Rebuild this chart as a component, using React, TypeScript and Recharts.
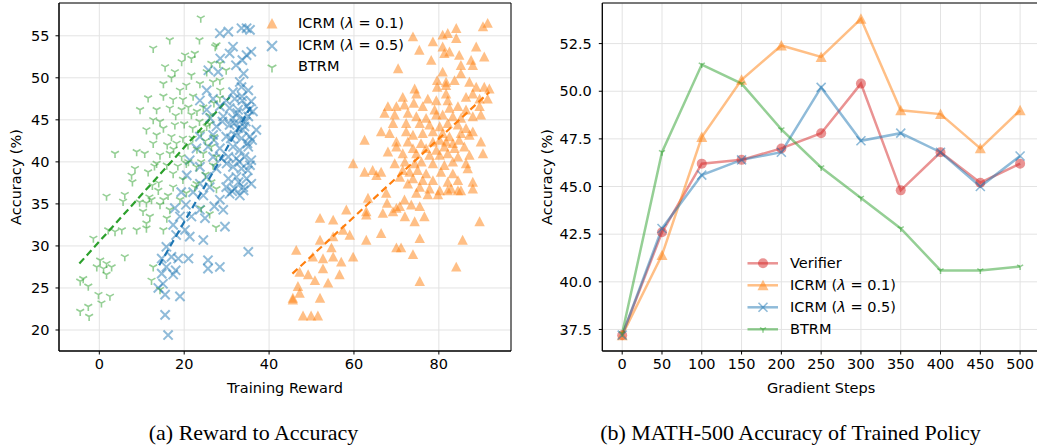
import React from "react";
import {
  ScatterChart,
  Scatter,
  LineChart,
  Line,
  XAxis,
  YAxis,
  CartesianGrid,
  ReferenceLine,
  ReferenceArea,
} from "recharts";

// ---- (a) Reward to Accuracy: [training reward, accuracy]
const icrm01Points: [number, number][] = [
  [91.5,56.5],[90.4,56.1],[84.1,55.9],[82.1,55.3],[80.9,55.1],[84.1,54.7],[73.9,54.9],[75.4,53.3],[78.6,54.3],[80.9,53.7],
  [81.3,52.9],[88.8,53.7],[82.5,53.1],[90.7,52.5],[84.8,52.7],[78.2,52.1],[87.6,52.1],[88.0,51.5],[85.2,51.5],[70.4,51.1],
  [80.9,50.7],[85.2,50.5],[79.6,49.7],[81.7,49.5],[83.7,49.7],[87.2,49.5],[74.3,48.7],[79.6,48.9],[81.7,49.1],[88.8,48.9],
  [90.7,48.9],[91.9,48.7],[71.5,47.7],[74.7,48.1],[77.4,47.5],[79.4,47.3],[81.7,48.1],[82.1,47.3],[86.4,47.7],[88.0,48.1],
  [89.6,47.5],[91.5,47.5],[70.0,46.6],[68.0,46.6],[71.9,46.8],[74.1,47.0],[76.2,46.6],[79.0,46.2],[82.5,46.4],[84.5,46.6],
  [86.4,46.2],[89.6,46.6],[67.2,45.8],[69.6,45.6],[72.7,45.8],[74.7,45.4],[77.0,45.2],[79.4,45.6],[80.9,45.6],[83.3,45.4],
  [85.2,45.2],[88.0,45.4],[89.9,45.6],[69.2,44.6],[72.3,44.6],[75.5,44.6],[77.8,44.4],[80.2,44.2],[82.1,44.6],[84.5,44.4],
  [86.4,44.0],[66.4,43.6],[68.4,43.4],[72.3,43.6],[73.9,43.2],[76.2,43.4],[78.6,43.6],[80.9,43.4],[82.5,43.0],[85.2,43.4],
  [87.2,43.2],[88.0,43.6],[62.5,42.6],[70.0,42.4],[72.7,42.4],[75.8,42.2],[78.6,42.4],[80.2,42.6],[81.7,42.4],[83.3,42.2],
  [84.8,42.6],[89.9,42.4],[70.0,41.8],[73.9,41.6],[77.0,41.6],[79.4,41.4],[81.3,41.8],[83.7,41.6],[86.0,41.8],[68.0,41.2],
  [71.5,41.0],[74.7,41.0],[77.8,40.8],[80.2,40.8],[82.1,41.0],[84.5,40.6],[87.2,40.8],[90.4,41.0],[69.6,39.8],[72.0,40.0],
  [74.3,39.8],[75.9,40.0],[78.6,39.8],[81.3,39.6],[83.3,40.0],[86.4,39.8],[59.8,39.8],[62.5,38.8],[64.4,39.0],[66.4,38.8],
  [71.5,39.0],[73.1,38.8],[75.0,39.0],[77.0,38.6],[80.5,38.8],[83.3,38.6],[86.8,39.2],[65.3,38.4],[70.8,38.2],[73.9,38.0],
  [76.2,37.8],[78.6,37.8],[82.1,37.6],[84.5,37.8],[88.0,37.6],[72.7,37.4],[75.5,37.0],[77.8,36.8],[80.2,36.6],[82.9,36.8],
  [85.2,36.6],[88.0,36.8],[67.6,36.3],[71.9,35.5],[74.7,36.3],[77.4,36.1],[79.8,36.1],[82.1,36.6],[84.5,36.6],[63.3,35.7],
  [67.8,35.1],[70.8,34.7],[73.5,34.9],[75.5,34.7],[58.2,34.3],[62.9,34.1],[66.8,33.9],[69.2,34.1],[70.0,34.5],[72.0,33.5],
  [76.6,33.5],[52.0,33.3],[55.1,33.1],[62.9,33.7],[74.3,32.9],[89.6,32.9],[57.4,31.9],[59.0,31.3],[66.4,31.5],[55.1,31.1],
  [52.0,30.7],[62.9,30.7],[75.5,30.9],[85.6,30.7],[70.0,29.8],[71.1,29.8],[46.4,29.5],[54.7,29.8],[73.9,29.0],[50.3,28.7],
  [52.7,28.5],[55.1,28.7],[57.0,28.1],[59.8,28.7],[47.2,26.9],[49.2,26.6],[52.7,27.3],[56.6,26.6],[84.1,27.5],[50.8,25.9],
  [53.9,25.6],[75.5,25.8],[46.8,25.2],[47.2,24.4],[45.6,23.8],[52.0,23.8],[45.6,23.6],[48.0,21.7],[49.9,21.7],[51.5,21.7],
];

const icrm05Points: [number, number][] = [
  [33.5,55.9],[34.7,55.9],[35.5,55.7],[28.4,55.3],[30.4,55.5],[31.5,53.7],[30.7,52.9],[34.7,52.7],[35.8,53.1],[28.5,52.3],
  [32.2,51.5],[33.7,52.1],[25.7,50.9],[28.0,50.7],[34.0,50.5],[33.1,49.5],[25.3,48.5],[31.5,48.3],[33.5,48.9],[35.1,48.5],
  [23.7,47.3],[26.8,47.5],[29.9,47.3],[31.9,47.5],[33.7,47.3],[35.8,47.2],[25.3,46.2],[28.4,46.6],[30.7,46.4],[32.7,46.2],
  [34.7,46.6],[36.2,46.0],[26.1,45.2],[29.2,45.4],[31.5,45.2],[33.5,45.0],[35.1,45.4],[27.6,44.2],[30.7,44.4],[32.7,44.0],
  [34.2,44.2],[37.0,43.8],[23.7,43.0],[26.8,43.2],[29.9,43.0],[31.9,43.2],[33.5,42.8],[35.5,43.0],[22.9,41.6],[25.6,41.8],
  [28.4,41.6],[31.5,41.8],[33.1,41.4],[35.1,41.8],[26.8,40.6],[30.4,40.6],[32.3,40.4],[34.2,40.6],[35.8,40.2],[21.3,40.2],
  [23.7,39.4],[27.6,39.2],[31.5,39.4],[33.5,39.2],[35.5,39.6],[20.6,38.4],[25.3,38.2],[30.4,38.0],[32.3,38.2],[34.7,38.0],
  [23.7,37.4],[29.9,37.0],[31.9,36.8],[33.9,37.0],[35.8,37.4],[19.3,36.4],[22.1,36.4],[30.7,36.2],[33.1,36.0],[28.4,35.5],
  [17.8,34.5],[20.4,34.9],[23.7,34.3],[27.1,34.7],[29.2,34.3],[19.0,33.5],[21.7,33.5],[24.9,33.3],[29.6,32.3],[17.4,32.5],
  [20.2,31.9],[18.1,31.3],[21.3,31.1],[24.5,30.7],[15.8,29.9],[35.1,29.3],[14.7,28.5],[17.0,28.7],[18.6,28.5],[21.0,28.5],
  [25.6,28.3],[15.8,27.5],[18.0,27.1],[25.6,27.3],[28.4,27.5],[14.7,26.7],[17.4,26.6],[15.0,25.5],[13.9,25.0],[15.5,24.2],
  [19.0,24.0],[15.5,21.8],[16.2,19.4],[32.5,45.8],[34.5,44.8],[33.8,43.8],[31.0,42.8],[34.9,42.2],[33.0,40.0],[35.0,39.0],
  [30.0,39.8],[32.8,37.6],[34.0,36.6],[31.3,36.5],[36.0,42.6],[29.0,44.8],[27.0,42.6],[33.6,47.8],[35.3,46.2],[31.8,44.6],
  [28.8,40.4],[26.0,37.0],[24.5,36.0],
];

const btrmPoints: [number, number][] = [
  [23.9,57.1],[16.6,54.5],[23.6,54.5],[12.7,53.5],[27.6,53.9],[27.3,53.7],[20.2,52.7],[22.5,52.9],[21.7,52.3],[15.5,51.3],
  [19.4,51.9],[26.4,51.7],[28.4,51.7],[17.8,50.7],[21.7,50.3],[25.3,50.7],[29.9,50.9],[28.4,49.7],[15.1,49.3],[20.5,49.1],
  [23.7,49.3],[26.8,49.5],[11.5,47.6],[15.1,47.8],[17.4,47.4],[19.7,47.4],[22.1,47.8],[28.4,47.6],[9.6,46.2],[13.5,46.2],
  [16.6,46.4],[19.4,46.2],[21.7,45.6],[12.7,45.0],[14.3,44.8],[17.8,44.4],[23.6,44.8],[25.3,44.2],[11.1,43.8],[15.1,44.0],
  [13.5,43.2],[17.0,43.0],[19.7,42.8],[27.0,43.0],[12.7,42.2],[18.2,42.2],[20.9,42.0],[26.4,41.8],[3.7,41.0],[8.8,41.2],
  [10.7,41.0],[14.3,40.8],[16.6,41.0],[19.4,40.6],[24.5,41.0],[27.6,40.6],[13.5,39.8],[15.9,39.6],[20.5,39.8],[22.9,39.4],
  [26.8,39.6],[8.4,39.2],[7.6,38.4],[11.5,38.8],[17.4,38.6],[19.7,37.9],[22.9,37.4],[26.4,37.6],[7.8,37.6],[13.9,36.6],
  [17.4,37.0],[20.5,36.3],[27.6,36.8],[1.7,35.9],[6.0,36.1],[12.3,35.5],[15.1,35.5],[5.6,35.3],[11.1,35.1],[14.3,34.9],
  [10.3,34.1],[16.6,34.3],[11.9,33.5],[15.9,33.3],[11.1,32.7],[11.1,32.1],[5.3,31.9],[2.1,31.9],[3.7,31.7],[8.8,31.9],
  [15.1,31.9],[-1.4,30.9],[6.0,28.7],[0.2,28.3],[1.7,27.9],[2.9,27.5],[-0.6,27.5],[1.0,27.3],[1.7,26.6],[-3.8,26.1],
  [-4.5,25.8],[-2.6,25.2],[12.7,27.5],[12.3,25.9],[-0.2,24.2],[2.5,24.0],[0.5,23.2],[-2.6,22.8],[-4.5,22.2],[-2.4,21.6],
  [14.3,24.8],[22.0,44.0],[24.0,43.5],[25.0,42.5],[26.0,44.5],[23.0,41.5],[21.0,40.0],[24.0,40.0],[25.0,38.5],[22.5,37.0],
  [18.5,39.5],[16.0,42.0],[18.0,45.5],[21.0,46.5],[23.0,46.0],[19.0,48.5],[17.0,50.0],[24.5,46.5],[27.0,47.0],[28.5,48.5],
  [26.0,45.5],[22.0,42.8],[20.0,44.5],[17.5,41.5],[14.0,37.5],[13.0,39.5],[9.5,35.2],[11.8,35.8],[12.5,37.2],[16.2,36.0],
  [19.0,35.5],[24.0,34.5],[26.0,33.8],[27.5,32.2],
];

// linear fits (start, end)
const icrm01Fit: [number, number][] = [[45.5, 26.7], [91.9, 48.3]];
const icrm05Fit: [number, number][] = [[14.1, 27.7], [36.2, 47.0]];
const btrmFit: [number, number][] = [[-4.7, 27.9], [30.7, 47.7]];

const rewardTicks = [0, 20, 40, 60, 80];
const rewardAccTicks = [20, 25, 30, 35, 40, 45, 50, 55];

// ---- (b) MATH-500 accuracy over gradient steps
const steps = [0, 50, 100, 150, 200, 250, 300, 350, 400, 450, 500];
const verifierAcc = [37.2, 42.6, 46.2, 46.4, 47.0, 47.8, 50.4, 44.8, 46.8, 45.2, 46.2];
const icrm01Acc = [37.2, 41.4, 47.6, 50.6, 52.4, 51.8, 53.8, 49.0, 48.8, 47.0, 49.0];
const icrm05Acc = [37.2, 42.8, 45.6, 46.4, 46.8, 50.2, 47.4, 47.8, 46.8, 45.0, 46.6];
const btrmAcc = [37.3, 46.8, 51.4, 50.4, 48.0, 46.0, 44.4, 42.8, 40.6, 40.6, 40.8];
const stepAccTicks = [37.5, 40, 42.5, 45, 47.5, 50, 52.5];

const RED = "#d62728";
const ORANGE = "#ff7f0e";
const BLUE = "#1f77b4";
const GREEN = "#2ca02c";
const FONT = "DejaVu Sans";
const FS = 14.5;
const GRID = "#e3e3e3";

const toXY = (pts: [number, number][]) => pts.map(([x, y]) => ({ x, y }));

// marker glyphs
const triPath = (cx: number, cy: number, r: number) =>
  `M${cx},${cy - r}L${cx - r},${cy + r * 0.9}L${cx + r},${cy + r * 0.9}Z`;

const TriMark = ({ cx, cy, r = 5.2, color = ORANGE, op = 0.5 }: any) => (
  <path d={triPath(cx, cy, r)} fill={color} fillOpacity={op} />
);
const XMark = ({ cx, cy, r = 4.6, color = BLUE, op = 0.5, w = 2 }: any) => (
  <path
    d={`M${cx - r},${cy - r}L${cx + r},${cy + r}M${cx - r},${cy + r}L${cx + r},${cy - r}`}
    stroke={color}
    strokeOpacity={op}
    strokeWidth={w}
    fill="none"
  />
);
const YMark = ({ cx, cy, r = 4.5, color = GREEN, op = 0.5, w = 1.6 }: any) => (
  <path
    d={`M${cx},${cy}L${cx},${cy + r}M${cx},${cy}L${cx - r * 0.87},${cy - r * 0.5}M${cx},${cy}L${cx + r * 0.87},${cy - r * 0.5}`}
    stroke={color}
    strokeOpacity={op}
    strokeWidth={w}
    fill="none"
  />
);

const tickStyle = { fontFamily: FONT, fontSize: FS, fill: "#000" };

const yTitle = (text: string, dx: number) => (props: any) => {
  const vb = props.viewBox;
  const x = vb.x + dx;
  const y = vb.y + vb.height / 2;
  return (
    <text
      x={x}
      y={y}
      transform={`rotate(-90, ${x}, ${y})`}
      textAnchor="middle"
      dominantBaseline="central"
      fontFamily={FONT}
      fontSize={FS}
      fill="#000"
    >
      {text}
    </text>
  );
};

const xTitle = (text: string) => (props: any) => {
  const vb = props.viewBox;
  return (
    <text
      x={vb.x + vb.width / 2}
      y={vb.y + 37}
      textAnchor="middle"
      dominantBaseline="central"
      fontFamily={FONT}
      fontSize={FS}
      fill="#000"
    >
      {text}
    </text>
  );
};

const Lam = ({ v }: { v: string }) => (
  <>
    ICRM (<tspan fontStyle="italic">λ</tspan> = {v})
  </>
);

const RewardChart = () => (
  <ScatterChart width={520} height={400} margin={{ top: 3, right: 9, bottom: 0, left: 0 }}>
    <CartesianGrid stroke={GRID} strokeWidth={1} />
    <XAxis
      type="number"
      dataKey="x"
      domain={[-9.5, 97]}
      ticks={rewardTicks}
      allowDataOverflow
      height={49}
      tickSize={3.5}
      tickMargin={4}
      tick={tickStyle}
      stroke="#000"
      label={{ content: xTitle("Training Reward") }}
    />
    <YAxis
      type="number"
      dataKey="y"
      domain={[17.5, 58.9]}
      ticks={rewardAccTicks}
      allowDataOverflow
      width={59}
      tickSize={3.5}
      tickMargin={6}
      tick={tickStyle}
      stroke="#000"
      label={{ content: yTitle("Accuracy (%)", 16) }}
    />
    <Scatter data={toXY(icrm01Points)} isAnimationActive={false} shape={(p: any) => <TriMark cx={p.cx} cy={p.cy} />} />
    <Scatter data={toXY(icrm05Points)} isAnimationActive={false} shape={(p: any) => <XMark cx={p.cx} cy={p.cy} />} />
    <Scatter data={toXY(btrmPoints)} isAnimationActive={false} shape={(p: any) => <YMark cx={p.cx} cy={p.cy} />} />
    <ReferenceLine
      segment={[{ x: icrm01Fit[0][0], y: icrm01Fit[0][1] }, { x: icrm01Fit[1][0], y: icrm01Fit[1][1] }]}
      stroke={ORANGE}
      strokeWidth={2.2}
      strokeDasharray="7 4"
    />
    <ReferenceLine
      segment={[{ x: icrm05Fit[0][0], y: icrm05Fit[0][1] }, { x: icrm05Fit[1][0], y: icrm05Fit[1][1] }]}
      stroke={BLUE}
      strokeWidth={2.2}
      strokeDasharray="7 4"
    />
    <ReferenceLine
      segment={[{ x: btrmFit[0][0], y: btrmFit[0][1] }, { x: btrmFit[1][0], y: btrmFit[1][1] }]}
      stroke={GREEN}
      strokeWidth={2.2}
      strokeDasharray="7 4"
    />
    <ReferenceArea x1={-9.5} x2={97} y1={17.5} y2={58.9} fill="none" stroke="#000" strokeWidth={1} />
  </ScatterChart>
);

const stepRows = steps.map((s, i) => ({
  step: s,
  verifier: verifierAcc[i],
  icrm01: icrm01Acc[i],
  icrm05: icrm05Acc[i],
  btrm: btrmAcc[i],
}));

const StepsChart = () => (
  <LineChart width={520} height={400} data={stepRows} margin={{ top: 3, right: 0, bottom: 0, left: 0 }}>
    <CartesianGrid stroke={GRID} strokeWidth={1} />
    <XAxis
      type="number"
      dataKey="step"
      domain={[-25, 525]}
      ticks={steps}
      allowDataOverflow
      height={49}
      tickSize={3.5}
      tickMargin={4}
      tick={tickStyle}
      stroke="#000"
      label={{ content: xTitle("Gradient Steps") }}
    />
    <YAxis
      type="number"
      domain={[36.37, 54.63]}
      ticks={stepAccTicks}
      allowDataOverflow
      width={82.3}
      tickSize={3.5}
      tickMargin={7}
      tick={tickStyle}
      tickFormatter={(v: number) => v.toFixed(1)}
      stroke="#000"
      label={{ content: yTitle("Accuracy (%)", 27) }}
    />
    <Line
      dataKey="verifier"
      stroke={RED}
      strokeOpacity={0.5}
      strokeWidth={2.5}
      isAnimationActive={false}
      dot={(p: any) => <circle key={p.index} cx={p.cx} cy={p.cy} r={5} fill={RED} fillOpacity={0.5} />}
      activeDot={false}
    />
    <Line
      dataKey="icrm01"
      stroke={ORANGE}
      strokeOpacity={0.5}
      strokeWidth={2.5}
      isAnimationActive={false}
      dot={(p: any) => <TriMark key={p.index} cx={p.cx} cy={p.cy} r={5.5} />}
      activeDot={false}
    />
    <Line
      dataKey="icrm05"
      stroke={BLUE}
      strokeOpacity={0.5}
      strokeWidth={2.5}
      isAnimationActive={false}
      dot={(p: any) => <XMark key={p.index} cx={p.cx} cy={p.cy} r={4.5} w={1.6} />}
      activeDot={false}
    />
    <Line
      dataKey="btrm"
      stroke={GREEN}
      strokeOpacity={0.5}
      strokeWidth={2.5}
      isAnimationActive={false}
      dot={(p: any) => <YMark key={p.index} cx={p.cx} cy={p.cy} r={3.5} w={1.5} />}
      activeDot={false}
    />
    <ReferenceArea x1={-25} x2={525} y1={36.37} y2={54.63} fill="none" stroke="#000" strokeWidth={1} />
  </LineChart>
);

const legendText = { fontFamily: FONT, fontSize: FS, fill: "#000" };

const RewardLegend = () => (
  <svg width={150} height={80} style={{ position: "absolute", left: 260, top: 10 }}>
    <TriMark cx={12} cy={13.5} r={5.5} />
    <XMark cx={12} cy={36} r={5} />
    <YMark cx={12} cy={57.5} r={5} />
    <text x={38} y={13} dominantBaseline="central" {...legendText}><Lam v="0.1" /></text>
    <text x={38} y={35} dominantBaseline="central" {...legendText}><Lam v="0.5" /></text>
    <text x={38} y={56} dominantBaseline="central" {...legendText}>BTRM</text>
  </svg>
);

const StepsLegend = () => {
  const rows = [
    { label: <>Verifier</>, color: RED, mark: (y: number) => <circle cx={16} cy={y} r={5} fill={RED} fillOpacity={0.5} /> },
    { label: <Lam v="0.1" />, color: ORANGE, mark: (y: number) => <TriMark cx={16} cy={y} r={5.5} /> },
    { label: <Lam v="0.5" />, color: BLUE, mark: (y: number) => <XMark cx={16} cy={y} r={4.5} w={1.6} /> },
    { label: <>BTRM</>, color: GREEN, mark: (y: number) => <YMark cx={16} cy={y} r={3.5} w={1.5} /> },
  ];
  return (
    <svg width={170} height={100} style={{ position: "absolute", left: 747, top: 250 }}>
      {rows.map((r, i) => {
        const y = 13.3 + i * 22;
        return (
          <g key={i}>
            <line x1={0.5} x2={31} y1={y} y2={y} stroke={r.color} strokeOpacity={0.5} strokeWidth={2.5} />
            {r.mark(y)}
            <text x={43} y={y} dominantBaseline="central" {...legendText}>{r.label}</text>
          </g>
        );
      })}
    </svg>
  );
};

const captionStyle: React.CSSProperties = {
  position: "absolute",
  top: 420,
  fontFamily: "Liberation Serif",
  fontSize: 22,
  lineHeight: "26px",
  color: "#000",
  textAlign: "center",
  whiteSpace: "nowrap",
};

export default function App() {
  return (
    <div
      style={{
        position: "absolute",
        left: 0,
        top: 0,
        width: 1037,
        height: 448,
        overflow: "hidden",
        background: "#fff",
      }}
    >
      <div style={{ position: "absolute", left: 0, top: 0 }}>
        <RewardChart />
      </div>
      <div style={{ position: "absolute", left: 520, top: 0 }}>
        <StepsChart />
      </div>
      <RewardLegend />
      <StepsLegend />
      <div style={{ ...captionStyle, left: 0, width: 507 }}>(a) Reward to Accuracy</div>
      <div style={{ ...captionStyle, left: 520, width: 541 }}>(b) MATH-500 Accuracy of Trained Policy</div>
    </div>
  );
}
